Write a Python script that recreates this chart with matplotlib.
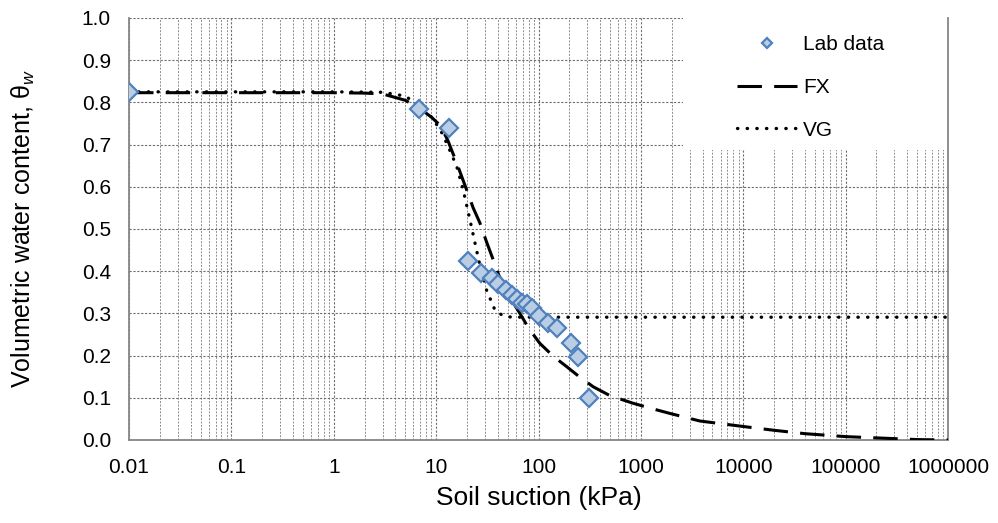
import numpy as np
import matplotlib
matplotlib.use('Agg')
import matplotlib.pyplot as plt
from matplotlib.patches import Rectangle
from matplotlib.ticker import FixedLocator, FixedFormatter, LogLocator, NullFormatter

plt.rcParams['font.family'] = ['Liberation Sans', 'DejaVu Sans']
plt.rcParams['mathtext.fontset'] = 'custom'
plt.rcParams['mathtext.rm'] = 'Liberation Sans'
plt.rcParams['mathtext.it'] = 'Liberation Sans:italic'

# lab measurements (suction kPa, volumetric water content)
lab_suction = [0.01, 6.8, 13.4, 20.6, 27.2, 34.8, 40.4, 47.7, 54.6, 61.1, 68.4,
               76.5, 85.7, 101.6, 124, 152, 206, 244, 313]
lab_theta = [0.825, 0.784, 0.739, 0.424, 0.395, 0.385, 0.370, 0.355, 0.344, 0.333,
             0.325, 0.322, 0.312, 0.294, 0.278, 0.265, 0.231, 0.197, 0.099]

# FX fitted curve
fx_suction = [0.01, 0.1, 1, 2, 3, 5, 6.9, 9, 11, 13, 15.9, 19.9, 23, 26.8, 31, 36.1,
              41, 47, 55, 65.8, 80, 103, 140, 188, 250, 343, 500, 841, 1300, 1920,
              3770, 10000, 20000, 40000, 100000, 200000, 500000, 1000000]
fx_theta = [0.823, 0.823, 0.823, 0.822, 0.820, 0.805, 0.786, 0.765, 0.745, 0.71,
            0.656, 0.592, 0.55, 0.514, 0.47, 0.427, 0.39, 0.363, 0.33, 0.300, 0.265,
            0.229, 0.198, 0.174, 0.150, 0.126, 0.105, 0.087, 0.074, 0.063, 0.045,
            0.032, 0.023, 0.015, 0.008, 0.005, 0.001, 0.0]

# VG fitted curve
vg_suction = [0.01, 1, 3, 5, 7, 9, 11, 12.7, 15.9, 18.4, 21.4, 24, 26.9, 31.1, 37.5,
              44, 48.8, 60, 100, 1000, 1000000]
vg_theta = [0.825, 0.825, 0.824, 0.815, 0.79, 0.765, 0.735, 0.703, 0.648, 0.592,
            0.521, 0.466, 0.411, 0.355, 0.308, 0.296, 0.292, 0.291, 0.291, 0.291, 0.291]

x_ticks = [0.01, 0.1, 1, 10, 100, 1000, 10000, 100000, 1000000]
x_tick_labels = ['0.01', '0.1', '1', '10', '100', '1000', '10000', '100000', '1000000']
y_ticks = [0.0, 0.1, 0.2, 0.3, 0.4, 0.5, 0.6, 0.7, 0.8, 0.9, 1.0]

fig = plt.figure(figsize=(9.98, 5.23), dpi=100)
ax = fig.add_axes([0.1293, 0.1587, 0.8206, 0.8069])
ax.set_axisbelow(True)

ax.plot(lab_suction, lab_theta, linestyle='none', marker='D', markersize=8.7,
        markerfacecolor='#B9CDE5', markeredgecolor='#4F81BD', markeredgewidth=1.6,
        label='Lab data', zorder=5)
ax.plot(fx_suction, fx_theta, color='black', lw=2.2, linestyle=(0, (8, 4)),
        label='FX', zorder=4)
ax.plot(vg_suction, vg_theta, color='black', lw=2.4, linestyle=(0, (0.1, 2.8)),
        dash_capstyle='round', label='VG', zorder=4)

ax.set_xscale('log')
ax.set_xlim(0.01, 1000000)
ax.set_ylim(0, 1.0)

ax.xaxis.set_major_locator(FixedLocator(x_ticks))
ax.xaxis.set_major_formatter(FixedFormatter(x_tick_labels))
ax.xaxis.set_minor_locator(LogLocator(base=10, subs=np.arange(2, 10), numticks=20))
ax.xaxis.set_minor_formatter(NullFormatter())
ax.set_yticks(y_ticks)
ax.set_yticklabels(['%.1f' % v for v in y_ticks])

ax.tick_params(axis='both', which='both', length=0, labelsize=15)
ax.tick_params(axis='x', pad=13)
ax.tick_params(axis='y', pad=13)

# grid lines
ax.grid(which='major', axis='both', color='#6E6E6E', linestyle=(0, (2, 1.5)), lw=0.8)
ax.grid(which='minor', axis='x', color='#8C8C8C', linestyle=(0, (2, 1.5)), lw=0.7)

for side in ['left', 'bottom', 'right']:
    ax.spines[side].set_color('#868686')
    ax.spines[side].set_linewidth(1.3)
ax.spines['top'].set_visible(False)

ax.set_xlabel('Soil suction (kPa)', fontsize=19)
ax.set_ylabel('Volumetric water content, θ$_w$', fontsize=18)
ax.xaxis.set_label_coords(0.5, -0.11)
ax.yaxis.set_label_coords(-0.112, 0.5)

# white legend area covering the grid
ax.add_patch(Rectangle((0.676, 0.687), 0.324, 0.313, transform=ax.transAxes,
                       facecolor='white', edgecolor='none', zorder=2))
ax.legend(loc='upper left', bbox_to_anchor=(0.742, 0.96), frameon=False,
          fontsize=15, borderpad=0, borderaxespad=0, handlelength=2.9,
          handletextpad=0.3, labelspacing=1.15, markerscale=0.55)

fig.savefig('out.png', dpi=100)
